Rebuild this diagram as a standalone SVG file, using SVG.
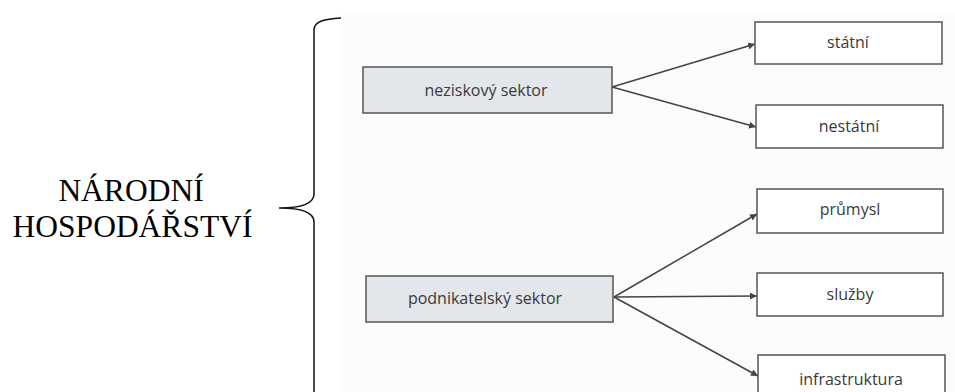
<svg xmlns="http://www.w3.org/2000/svg" width="955" height="392" viewBox="0 0 955 392">
<defs>
<style>
.box{stroke:#555;stroke-width:1.5;fill:#fff}
.grey{fill:#e3e6ea}
.lbl{font-family:"Open Sans","Noto Sans",sans-serif;font-size:16px;fill:#3a3a3a;text-anchor:middle}
.title{font-family:"Liberation Serif",serif;font-size:31.5px;fill:#000;text-anchor:middle}
.conn{stroke:#444;stroke-width:1.5;fill:none;marker-end:url(#ah)}
</style>
<marker id="ah" viewBox="0 0 10 10" refX="10" refY="5" markerWidth="7" markerHeight="7" markerUnits="userSpaceOnUse" orient="auto">
<path d="M0,0 L10,5 L0,10 z" fill="#444"/>
</marker>
</defs>
<rect width="955" height="392" fill="#fff"/>
<rect x="341" y="14" width="614" height="378" fill="#fcfcfc"/>
<g id="title">
<text class="title" x="131" y="201">NÁRODNÍ</text>
<text class="title" x="132.5" y="237">HOSPODÁŘSTVÍ</text>
</g>
<g id="brace">
<path d="M341,18 C325,19 314,21 314,30 L314,194 C314,204 300,208 279,208 C300,208 314,212 314,222 L314,394" stroke="#111" stroke-width="1.5" fill="none"/>
</g>
<g id="connectors">
<line class="conn" x1="612" y1="87" x2="755" y2="44"/>
<line class="conn" x1="612" y1="87" x2="756" y2="127"/>
<line class="conn" x1="614" y1="297" x2="757" y2="214"/>
<line class="conn" x1="614" y1="297" x2="757" y2="296"/>
<line class="conn" x1="614" y1="297" x2="758" y2="376"/>
</g>
<g id="neziskovy">
<rect class="box grey" x="363" y="67" width="249" height="46"/>
<text class="lbl" x="486" y="96">neziskový sektor</text>
</g>
<g id="statni">
<rect class="box" x="755" y="22" width="187" height="42"/>
<text class="lbl" x="848" y="48">státní</text>
</g>
<g id="nestatni">
<rect class="box" x="756" y="105" width="187" height="43"/>
<text class="lbl" x="849" y="132">nestátní</text>
</g>
<g id="podnikatelsky">
<rect class="box grey" x="366" y="276" width="247" height="46"/>
<text class="lbl" x="485" y="304">podnikatelský sektor</text>
</g>
<g id="prumysl">
<rect class="box" x="757" y="189" width="186" height="44"/>
<text class="lbl" x="850" y="215">průmysl</text>
</g>
<g id="sluzby">
<rect class="box" x="757" y="273" width="186" height="43"/>
<text class="lbl" x="850" y="300">služby</text>
</g>
<g id="infrastruktura">
<rect class="box" x="758" y="355" width="187" height="45"/>
<text class="lbl" x="851" y="385">infrastruktura</text>
</g>
</svg>
